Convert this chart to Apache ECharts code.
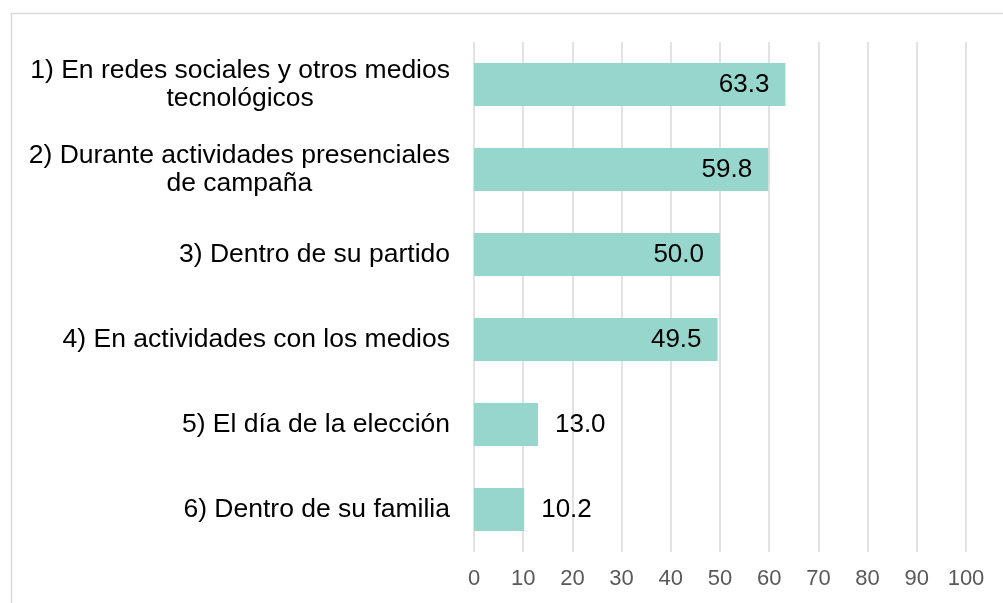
<!DOCTYPE html>
<html>
<head>
<meta charset="utf-8">
<script src="https://cdn.jsdelivr.net/npm/echarts@6/dist/echarts.min.js"></script>
<style>html,body{margin:0;padding:0;background:#fff}#c{width:1003px;height:603px}</style>
</head>
<body>
<div id="c"></div>
<script>
const categories = [
  "1) En redes sociales y otros medios\ntecnológicos",
  "2) Durante actividades presenciales\nde campaña",
  "3) Dentro de su partido",
  "4) En actividades con los medios",
  "5) El día de la elección",
  "6) Dentro de su familia"
];
const values = [63.3, 59.8, 50.0, 49.5, 13.0, 10.2];
const xTicks = [0, 10, 20, 30, 40, 50, 60, 70, 80, 90, 100];

const chart = echarts.init(document.getElementById('c'), null, {renderer: 'canvas'});
const FONT = '"Liberation Sans", Arial, sans-serif';

const data = values.map(v => {
  const inside = v > 30;
  return {
    value: v,
    label: {
      position: inside ? 'insideRight' : 'right',
      distance: inside ? 16 : 17
    }
  };
});

chart.setOption({
  animation: false,
  graphic: [{
    type: 'rect',
    left: 9, top: 11,
    shape: {width: 1100, height: 700},
    style: {fill: 'none', stroke: '#d9d9d9', lineWidth: 1.5},
    silent: true
  }],
  grid: {left: 474, right: 37, top: 42, bottom: 51, containLabel: false},
  xAxis: {
    type: 'value',
    min: xTicks[0], max: xTicks[xTicks.length - 1], interval: 10,
    axisLine: {show: false},
    axisTick: {show: false},
    splitLine: {show: true, lineStyle: {color: '#d9d9d9', width: 1.5}},
    axisLabel: {
      color: '#595959', fontSize: 22, fontFamily: FONT, margin: 16,
      formatter: v => xTicks.includes(v) ? String(v) : ''
    }
  },
  yAxis: {
    type: 'category',
    data: categories,
    inverse: true,
    axisLine: {show: false},
    axisTick: {show: false},
    splitLine: {show: false},
    axisLabel: {
      color: '#000', fontSize: 26.5, fontFamily: FONT, margin: 24,
      align: 'right', lineHeight: 28,
      formatter: v => v.split('\n').map(l => '{c|' + l + '}').join('\n'),
      rich: {c: {align: 'center', fontSize: 26.5, fontFamily: FONT, color: '#000', lineHeight: 28}}
    }
  },
  series: [{
    type: 'bar',
    data: data,
    barWidth: 43,
    itemStyle: {color: '#97d6cc'},
    label: {
      show: true,
      color: '#000', fontSize: 26, fontFamily: FONT,
      formatter: p => p.value.toFixed(1)
    }
  }]
});
</script>
</body>
</html>
